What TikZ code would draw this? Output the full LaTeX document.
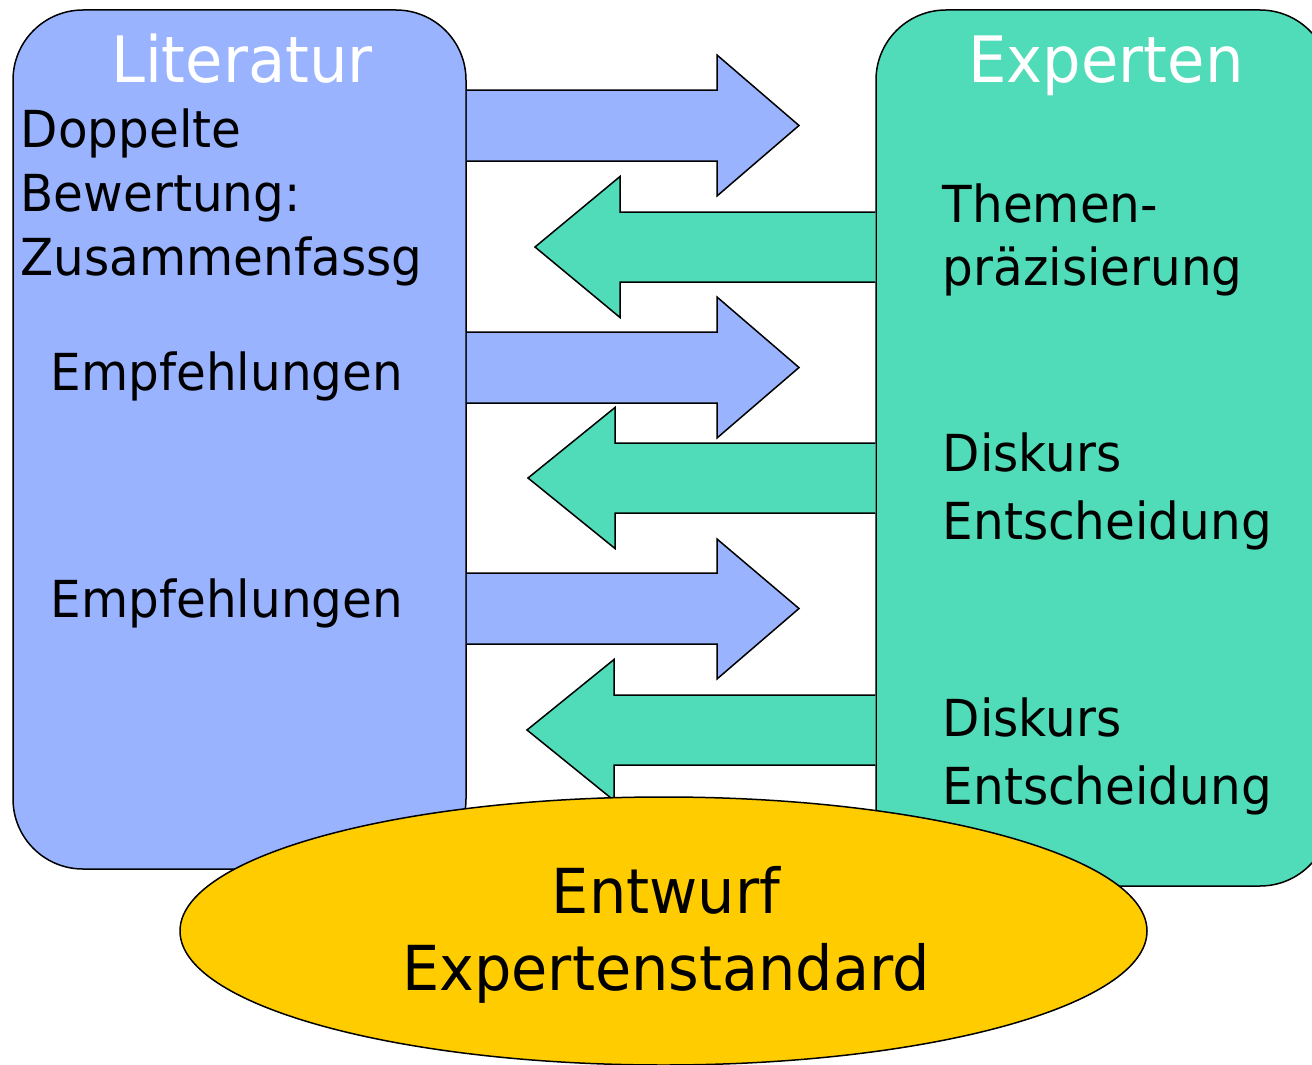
\documentclass[tikz,border=0pt]{standalone}
\usepackage{fontspec}
\setmainfont{DejaVu Sans}[FakeStretch=0.95]
\usetikzlibrary{shapes.geometric}

\definecolor{litblue}{RGB}{153,179,255}
\definecolor{expgreen}{RGB}{80,219,185}
\definecolor{draftyellow}{RGB}{255,204,0}

\begin{document}
\begin{tikzpicture}[
        x=1pt, y=-1pt,
        line width=1.5pt, line join=miter,
        box/.style={draw, rectangle, rounded corners=70pt, inner sep=0pt},
        head/.style={text=white, font=\fontsize{64}{70}\selectfont, inner sep=0pt, anchor=base},
        txt/.style={font=\fontsize{51}{61}\selectfont, inner sep=0pt, anchor=base west},
        big/.style={font=\fontsize{62}{70}\selectfont, inner sep=0pt, anchor=base}
        ]
    \useasboundingbox (0,0) rectangle (1312,1065);

    % Define the two columns
    \node[box, fill=litblue, minimum width=453pt, minimum height=859pt] (lit) at (239.5, 439.5) {};
    \node[box, fill=expgreen, minimum width=454pt, minimum height=876pt] (exp) at (1103, 448) {};

    % Define column titles
    \node[head] (litT) at (242, 82) {Literatur};
    \node[head] (expT) at (1106, 82) {Experten};

    % Draw arrows from Literatur to Experten
    \filldraw[fill=litblue] (lit.east |- 0,90) -- (717,90) -- (717,55) -- (799,125.5)
        -- (717,196) -- (717,161) -- (lit.east |- 0,161);
    \filldraw[fill=litblue] (lit.east |- 0,332) -- (717,332) -- (717,297) -- (799,367.5)
        -- (717,438) -- (717,403) -- (lit.east |- 0,403);
    \filldraw[fill=litblue] (lit.east |- 0,573) -- (717,573) -- (717,539) -- (799,608.5)
        -- (717,679) -- (717,644) -- (lit.east |- 0,644);

    % Draw arrows from Experten back to Literatur
    \filldraw[fill=expgreen] (exp.west |- 0,212) -- (620,212) -- (620,176.5) -- (535,247)
        -- (620,317.5) -- (620,282) -- (exp.west |- 0,282);
    \filldraw[fill=expgreen] (exp.west |- 0,443) -- (615,443) -- (615,407.5) -- (528,478)
        -- (615,548.5) -- (615,513) -- (exp.west |- 0,513);
    \filldraw[fill=expgreen] (exp.west |- 0,695) -- (614,695) -- (614,659.5) -- (527,730)
        -- (614,800.5) -- (614,765) -- (exp.west |- 0,765);

    % Define text of the Literatur column
    \node[txt] (dop) at (20, 147) {Doppelte};
    \node[txt] (bew) at (20, 211) {Bewertung:};
    \node[txt] (zus) at (20, 275) {Zusammenfassg};
    \node[txt] (emp1) at (50, 390) {Empfehlungen};
    \node[txt] (emp2) at (50, 617) {Empfehlungen};

    % Define text of the Experten column
    \node[txt] (them) at (942, 222) {Themen-};
    \node[txt] (praez) at (942, 285) {präzisierung};
    \node[txt] (dis1) at (942, 471) {Diskurs};
    \node[txt] (ent1) at (942, 539) {Entscheidung};
    \node[txt] (dis2) at (942, 736) {Diskurs};
    \node[txt] (ent2) at (942, 804) {Entscheidung};

    % Define the draft ellipse
    \node[draw, ellipse, fill=draftyellow, minimum width=967pt, minimum height=268pt, inner sep=0pt] (draft) at (663.5, 931) {};
    \node[big] (draftA) at (666, 913) {Entwurf};
    \node[big] (draftB) at (666, 990) {Expertenstandard};

\end{tikzpicture}
\end{document}
